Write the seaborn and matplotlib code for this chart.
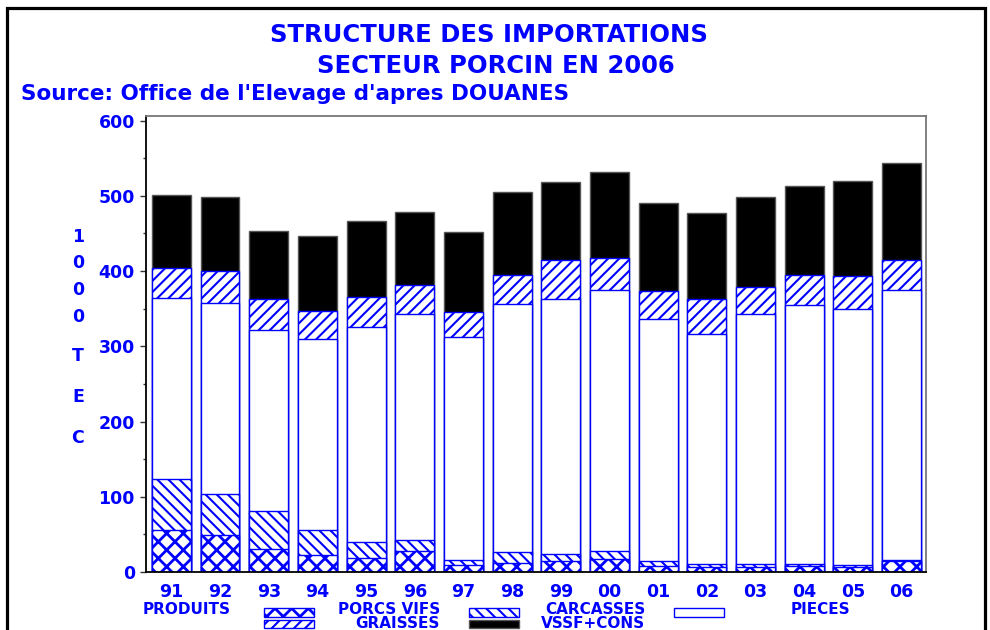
import numpy as np
import matplotlib
matplotlib.use("Agg")
import matplotlib.pyplot as plt
import seaborn as sns
from matplotlib.patches import Rectangle
from matplotlib.ticker import MultipleLocator

# Style général
sns.set_theme(style="ticks")
plt.rcParams['font.family'] = ['DejaVu Sans']
plt.rcParams['hatch.linewidth'] = 1.6

BLUE = "#0000FF"

# Données (1000 TEC)
annees = ["91", "92", "93", "94", "95", "96", "97", "98",
          "99", "00", "01", "02", "03", "04", "05", "06"]
porcs_vifs = [56, 49, 31, 22, 18, 28, 9, 12, 14, 17, 8, 6, 7, 8, 7, 14]
carcasses = [67, 54, 50, 34, 22, 14, 7, 14, 10, 11, 6, 5, 3, 2, 2, 2]
pieces = [241, 254, 241, 254, 285, 301, 296, 330, 339, 347, 322, 305, 333, 345, 341, 359]
graisses = [40, 43, 41, 37, 41, 38, 34, 39, 51, 42, 37, 47, 36, 40, 43, 40]
vssf_cons = [97, 98, 90, 99, 100, 98, 106, 110, 104, 115, 117, 114, 119, 118, 126, 128]

# Empilement : cumul du bas vers le haut
couches = [porcs_vifs, carcasses, pieces, graisses, vssf_cons]
cumul = np.cumsum(np.array(couches), axis=0)

# (couleur de fond, bord, hachure, épaisseur hachure) pour chaque couche
styles = [
    ("white", BLUE, "xx", 2.0),       # PORCS VIFS
    ("white", BLUE, "\\\\\\", 1.5),   # CARCASSES
    ("white", BLUE, None, 1.5),       # PIECES
    ("white", BLUE, "///", 1.5),      # GRAISSES
    ("black", "#555555", None, 1.5),  # VSSF+CONS
]

W, H = 990, 630
fig = plt.figure(figsize=(W / 100, H / 100), dpi=100)


def fx(px):
    return px / W


def fy(py):
    return 1 - py / H


ax = fig.add_axes([fx(146), fy(572), fx(926) - fx(146), fy(116) - fy(572)])

# On dessine du cumul le plus haut au plus bas, chaque barre masque la suivante
for i in range(len(couches) - 1, -1, -1):
    face, edge, hatch, hlw = styles[i]
    plt.rcParams['hatch.linewidth'] = hlw
    sns.barplot(x=annees, y=cumul[i], ax=ax, color=face, saturation=1,
                edgecolor=edge, linewidth=1.0, hatch=hatch, errorbar=None,
                width=0.8)

ax.set_xlim(-0.52, 15.5)
ax.set_ylim(0, 606)
ax.set_xlabel("")
ax.set_ylabel("")
ax.set_yticks(range(0, 601, 100))
ax.yaxis.set_minor_locator(MultipleLocator(50))
ax.tick_params(axis="y", which="major", length=4, width=1, color="#333333",
               labelsize=12.5, labelcolor=BLUE, pad=4)
ax.tick_params(axis="y", which="minor", length=2.5, width=1, color="#333333")
ax.tick_params(axis="x", length=0, labelsize=12.5, labelcolor=BLUE, pad=8)
for lab in ax.get_xticklabels() + ax.get_yticklabels():
    lab.set_fontweight("bold")

for side in ["left", "bottom"]:
    ax.spines[side].set_color("black")
    ax.spines[side].set_linewidth(1.3)
for side in ["top", "right"]:
    ax.spines[side].set_visible(True)
    ax.spines[side].set_color("#777777")
    ax.spines[side].set_linewidth(1.3)

# Titres
fig.text(fx(489), fy(35), "STRUCTURE DES IMPORTATIONS", ha="center", va="center",
         fontsize=17.5, fontweight="bold", color=BLUE)
fig.text(fx(496), fy(66), "SECTEUR PORCIN EN 2006", ha="center", va="center",
         fontsize=17.5, fontweight="bold", color=BLUE)
fig.text(fx(21), fy(94), "Source: Office de l'Elevage d'apres DOUANES", ha="left",
         va="center", fontsize=15.5, fontweight="bold", color=BLUE)

# Libellé vertical de l'axe Y
unite = ["1", "0", "0", "0", "T", "E", "C"]
pos_unite = [237, 263, 290, 317, 356, 397, 438]
for ch, py in zip(unite, pos_unite):
    fig.text(fx(78), fy(py), ch, ha="center", va="center", fontsize=12.5,
             fontweight="bold", color=BLUE)

# Légende dessinée à la main (disposition d'origine)
fig.text(fx(143), fy(609.5), "PRODUITS", ha="left", va="center", fontsize=11,
         fontweight="bold", color=BLUE)
noms = ["PORCS VIFS", "CARCASSES", "PIECES", "GRAISSES", "VSSF+CONS"]
for k, nom in enumerate(noms):
    col, row = k % 3, k // 3
    x0 = 264 + 205 * col
    y0, y1 = (608, 617) if row == 0 else (619.5, 628)
    face, edge, hatch, hlw = styles[k]
    plt.rcParams['hatch.linewidth'] = hlw
    fig.patches.append(Rectangle((fx(x0), fy(y1)), fx(50), fy(y0) - fy(y1),
                                 transform=fig.transFigure, facecolor=face,
                                 edgecolor=edge, hatch=hatch, linewidth=1.0))
    fig.text(fx(x0 + 176), fy(609.5 if row == 0 else 623.5), nom, ha="right",
             va="center", fontsize=11, fontweight="bold", color=BLUE)

# Cadre extérieur
fig.patches.append(Rectangle((fx(6.5), -0.05), fx(985) - fx(6.5), fy(7.5) + 0.05,
                             transform=fig.transFigure, fill=False,
                             edgecolor="black", linewidth=2.3))

fig.savefig("out.png", dpi=100)
